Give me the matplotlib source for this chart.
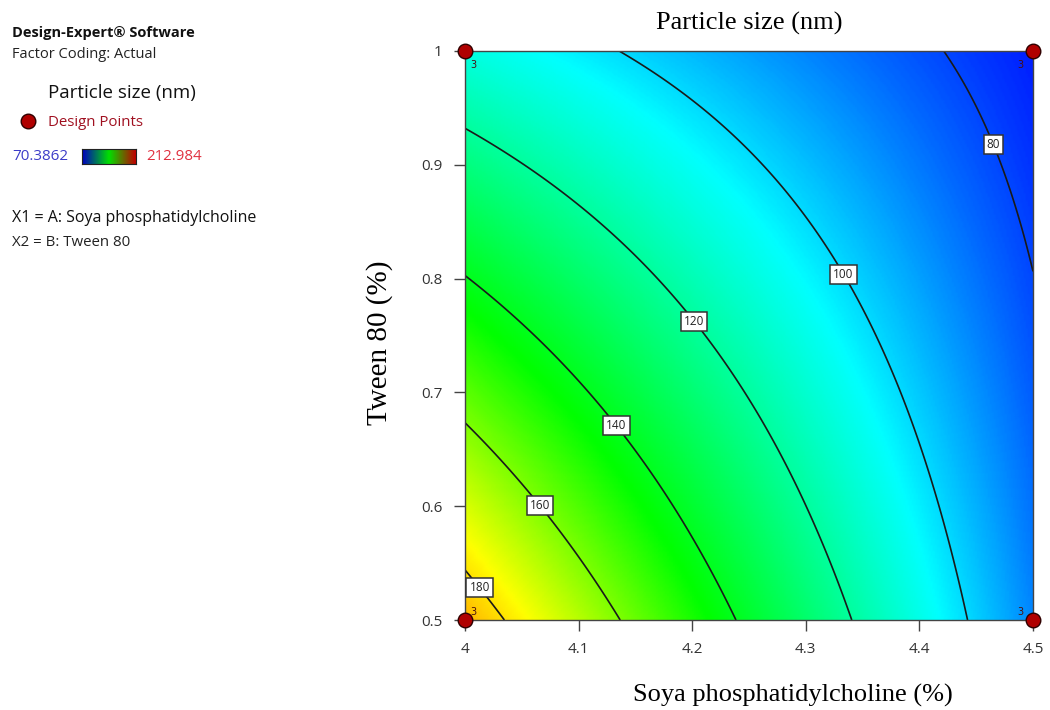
import numpy as np
import matplotlib
matplotlib.use("Agg")
import matplotlib.pyplot as plt
from matplotlib.colors import LinearSegmentedColormap
from matplotlib.lines import Line2D

# design points (corners, 3 replicates each) and mean particle size
soya = [4.0, 4.5, 4.0, 4.5]
tween = [0.5, 0.5, 1.0, 1.0]
size_nm = [186.8, 88.7, 109.5, 74.5]
replicates = [3, 3, 3, 3]

levels = [80, 100, 120, 140, 160, 180]
label_pos = [(4.47, 0.92), (4.335, 0.805), (4.205, 0.765),
             (4.135, 0.672), (4.065, 0.60), (4.015, 0.53)]
color_min, color_max = 70.3862, 212.984

xticks = [4, 4.1, 4.2, 4.3, 4.4, 4.5]
yticks = [0.5, 0.6, 0.7, 0.8, 0.9, 1]

# fit 2FI model like Design-Expert: y = b0 + b1*A + b2*B + b12*A*B
A = np.array(soya)
B = np.array(tween)
X = np.column_stack([np.ones(4), A, B, A * B])
coef = np.linalg.lstsq(X, np.array(size_nm), rcond=None)[0]

gx, gy = np.meshgrid(np.linspace(4, 4.5, 300), np.linspace(0.5, 1, 300))
Z = coef[0] + coef[1] * gx + coef[2] * gy + coef[3] * gx * gy

de_cmap = LinearSegmentedColormap.from_list(
    "de", [(0, "#0000ff"), (0.24, "#00ffff"), (0.52, "#00ff00"),
           (0.74, "#ffff00"), (1, "#ff0000")])

fig = plt.figure(figsize=(10.5, 7.1), dpi=100)
ax = fig.add_axes([465 / 1050, 90 / 710, 568 / 1050, 569 / 710])

ax.pcolormesh(gx, gy, Z, cmap=de_cmap, vmin=color_min, vmax=color_max,
              shading="gouraud", rasterized=True)
cs = ax.contour(gx, gy, Z, levels=levels, colors="#1a1a1a", linewidths=1.2)
labels = ax.clabel(cs, fmt="%d", fontsize=8.5, inline=False, manual=label_pos)
for t in labels:
    t.set_rotation(0)
    t.set_bbox(dict(boxstyle="square,pad=0.25", facecolor="white",
                    edgecolor="#333333", linewidth=1.1))
    t.set_color("#222222")
    t.set_fontfamily("Open Sans")
    t.set_zorder(5)

ax.scatter(soya, tween, s=110, c="#b00000", edgecolors="#300000",
           linewidths=1, zorder=10, clip_on=False)
for x, y, n in zip(soya, tween, replicates):
    dx = 4 if x == 4.0 else -11
    dy = -10 if y == 1.0 else 6
    ax.annotate(str(n), (x, y), xytext=(dx, dy), textcoords="offset points",
                fontsize=7, color="#4a1010", va="center")

ax.set_xlim(4, 4.5)
ax.set_ylim(0.5, 1)
ax.set_xticks(xticks)
ax.set_xticklabels([str(v) for v in xticks])
ax.set_yticks(yticks)
ax.set_yticklabels([str(v) for v in yticks])
ax.tick_params(direction="out", length=8, width=1, color="#444444",
               labelsize=11, labelcolor="#333333", pad=8)
for lab in ax.get_xticklabels() + ax.get_yticklabels():
    lab.set_fontfamily("Open Sans")
for sp in ax.spines.values():
    sp.set_color("#444444")
    sp.set_linewidth(1)

serif = "Liberation Serif"
fig.text(749 / 1050, 1 - 23 / 710, "Particle size (nm)", family=serif,
         fontsize=19, ha="center", va="center")
fig.text(793 / 1050, 1 - 695 / 710, "Soya phosphatidylcholine (%)",
         family=serif, fontsize=19, ha="center", va="center")
fig.text(380 / 1050, 1 - 343 / 710, "Tween 80 (%)", family=serif,
         fontsize=21, ha="center", va="center", rotation=90)

# left info panel
sans = "Open Sans"
fig.text(12 / 1050, 1 - 33 / 710, "Design-Expert\u00ae Software", family=sans,
         fontsize=10.5, weight="bold", va="center", color="#111111")
fig.text(12 / 1050, 1 - 54 / 710, "Factor Coding: Actual", family=sans,
         fontsize=10.5, va="center", color="#222222")
fig.text(48 / 1050, 1 - 93 / 710, "Particle size (nm)", family=sans,
         fontsize=13.5, va="center", color="#111111")
fig.add_artist(Line2D([28 / 1050], [1 - 121 / 710], marker="o", markersize=10.5,
                      markerfacecolor="#b00000", markeredgecolor="#300000",
                      markeredgewidth=1, linestyle="none",
                      transform=fig.transFigure))
fig.text(48 / 1050, 1 - 122 / 710, "Design Points", family=sans,
         fontsize=10.8, va="center", color="#a01020")
fig.text(12 / 1050, 1 - 157 / 710, "70.3862", family=sans,
         fontsize=11, va="center", color="#3c3cc8")
fig.text(146 / 1050, 1 - 157 / 710, "212.984", family=sans,
         fontsize=10.8, va="center", color="#e03040")
cax = fig.add_axes([82 / 1050, 1 - 164 / 710, 54 / 1050, 15 / 710])
legend_cmap = LinearSegmentedColormap.from_list(
    "lg", ["#0000c0", "#00e000", "#c00000"])
cax.imshow(np.linspace(0, 1, 100)[None, :], aspect="auto", cmap=legend_cmap)
cax.set_xticks([])
cax.set_yticks([])
for sp in cax.spines.values():
    sp.set_color("#222222")
fig.text(12 / 1050, 1 - 218 / 710, "X1 = A: Soya phosphatidylcholine",
         family=sans, fontsize=11.5, va="center", color="#111111")
fig.text(12 / 1050, 1 - 243 / 710, "X2 = B: Tween 80", family=sans,
         fontsize=10.8, va="center", color="#222222")

fig.savefig("out.png", dpi=100)
